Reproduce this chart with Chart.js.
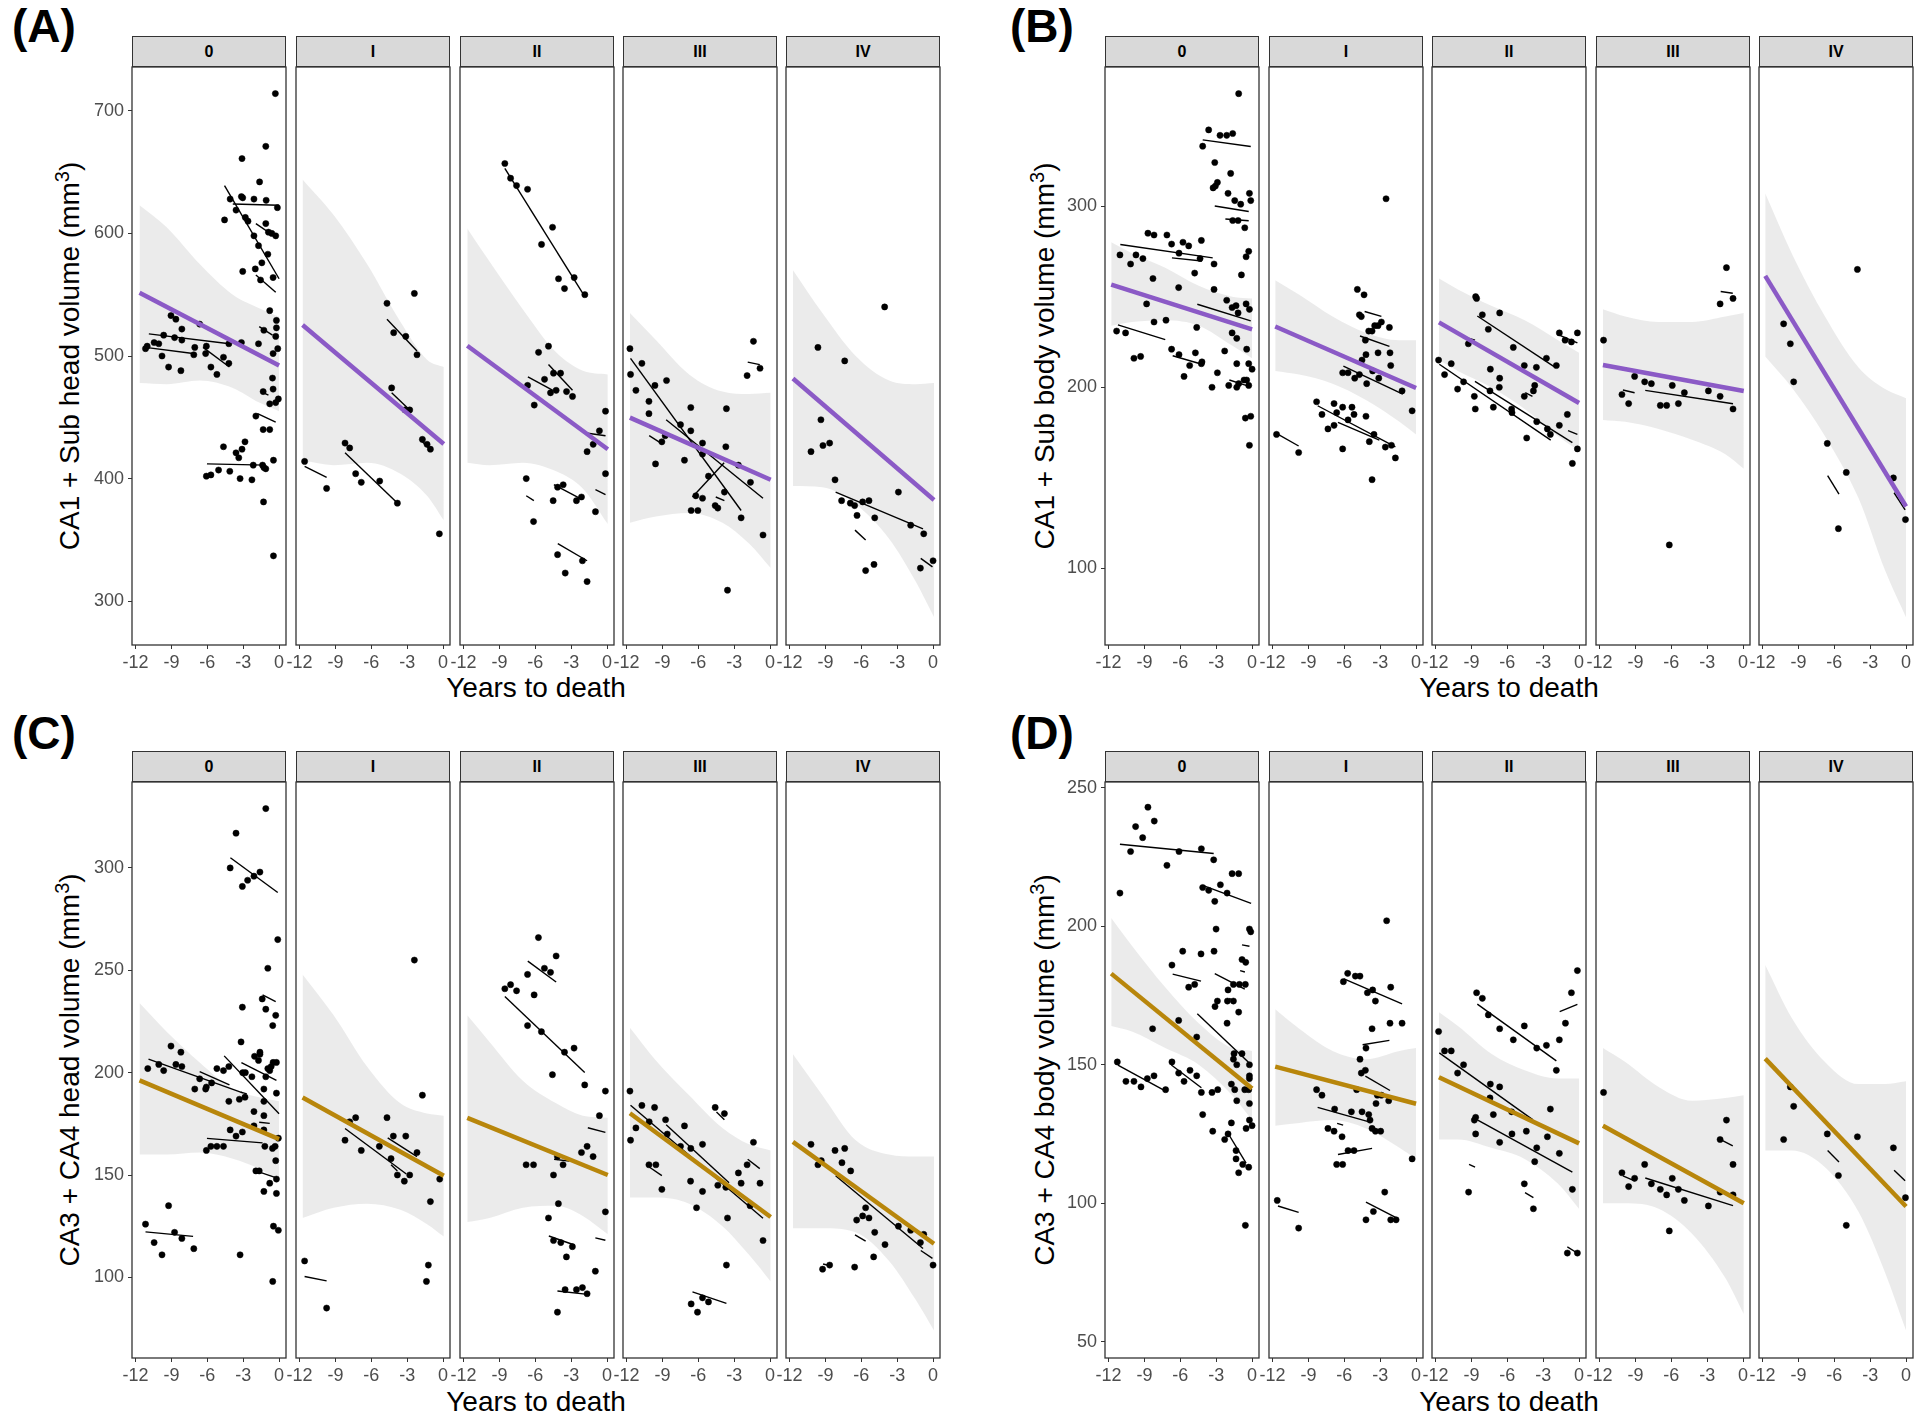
<!DOCTYPE html>
<html>
<head>
<meta charset="utf-8">
<script src="https://cdn.jsdelivr.net/npm/chart.js@4.4.1/dist/chart.umd.min.js"></script>
<style>
  body { margin: 0; background: #fff; width: 1920px; height: 1420px; position: relative; overflow: hidden;
         font-family: "Liberation Sans", Arial, sans-serif; color: #000; }
  canvas { position: absolute; }
  .strip { position: absolute; background: #d9d9d9; border: 1.3px solid #333; box-sizing: border-box;
           text-align: center; font-weight: bold; font-size: 16px; line-height: 30px; }
  .tag { position: absolute; font-weight: bold; font-size: 46px; line-height: 46px; }
  .xt { position: absolute; font-size: 28px; line-height: 28px; transform: translateX(-50%); white-space: nowrap; }
  .yt { position: absolute; font-size: 28px; line-height: 30px; white-space: nowrap;
        transform: translate(-50%, -50%) rotate(-90deg); }
  .yt sup { font-size: 20px; }
</style>
</head>
<body>
<script>
const stages = ['0', 'I', 'II', 'III', 'IV'];
const xTicks = [-12, -9, -6, -3, 0];
const yTicksA = [300, 400, 500, 600, 700];
const yTicksB = [100, 200, 300];
const yTicksC = [100, 150, 200, 250, 300];
const yTicksD = [50, 100, 150, 200, 250];

// observations per stage: [years to death, volume]
const pointsA = [
  [[-11.17,506],[-11.03,508],[-10.45,511],[-10.06,510],[-9.79,500],[-9.65,517],[-9.24,491],[-9.04,533],[-8.74,515],[-8.63,530],[-8.21,488],[-8.13,522],[-8.13,513],[-7.13,501],[-7.05,507],[-6.64,526],[-6.14,502],[-6.08,508],[-5.7,491],[-5.2,485],[-4.65,499],[-4.2,494],[-4.2,510],[-3.15,511],[-1.72,510],
   [-6.08,402],[-5.7,403],[-5.06,407],[-4.65,426],[-4.12,406],[-3.6,421],[-3.37,417],[-3.26,400],[-3.1,424],[-2.85,430],[-2.27,399],[-2.16,411],[-1.38,411],[-1.27,409],[-1.11,408],[-1.3,381],[-0.47,415],[-0.47,337],
   [-0.31,714],[-1.11,671],[-3.1,661],[-1.63,642],[-4.56,611],[-4.09,628],[-3.6,619],[-3.15,630],[-3.04,629],[-2.82,613],[-2.6,610],[-2.1,628],[-2.1,598],[-1.72,590],[-1.44,576],[-1.11,608],[-1.08,627],[-0.94,583],[-0.89,601],[-0.61,600],[-0.28,598],[-0.14,621],[-3.04,569],[-1.99,571],[-1.55,562],[-0.5,564],
   [-0.78,537],[-0.22,529],[-0.22,523],[-0.28,516],[-1.27,521],[-0.11,506],[-0.5,502],[-0.55,482],[-1.33,471],[-0.5,473],[-0.06,465],[-0.28,462],[-0.78,461],[-1.94,451],[-1.33,440],[-0.78,440]],
  [[-11.58,414],[-9.74,392],[-8.2,429],[-7.81,425],[-7.31,404],[-6.84,397],[-5.3,398],[-3.82,380],[-4.69,543],[-4.13,519],[-2.4,551],[-3.12,516],[-2.18,501],[-4.3,474],[-3.18,456],[-2.79,456],[-1.73,432],[-1.34,428],[-1.06,424],[-0.31,355]],
  [[-8.55,657],[-8.07,645],[-7.57,639],[-6.65,636],[-4.56,605],[-5.48,591],[-4.06,563],[-3.56,555],[-2.75,564],[-1.86,550],[-4.9,508],[-5.73,503],[-5.23,481],[-4.48,486],[-3.89,486],[-6.65,476],[-4.73,470],[-4.26,472],[-3.39,471],[-2.89,467],[-6.09,460],[-0.13,455],[-0.64,439],[-1.16,428],[-1.67,422],[-0.13,404],[-6.76,400],[-3.67,395],[-4.14,393],[-4.51,382],[-2.56,382],[-2.14,385],[-0.97,373],[-6.15,365],[-4.14,338],[-3.5,323],[-2.06,333],[-1.67,316]],
  [[-11.72,506],[-11.67,485],[-11.22,472],[-10.72,494],[-10.13,463],[-10.13,453],[-9.63,476],[-8.66,480],[-9.58,412],[-9.05,430],[-8.77,435],[-7.49,444],[-7.16,415],[-6.63,458],[-6.63,439],[-5.65,429],[-5.65,420],[-5.15,402],[-6.21,386],[-5.65,384],[-6.6,374],[-6.04,374],[-4.59,378],[-4.37,376],[-3.82,389],[-3.65,457],[-3.7,426],[-3.56,309],[-2.65,411],[-2.42,368],[-1.64,397],[-1.92,484],[-1.39,512],[-0.84,490],[-0.59,354]],
  [[-9.63,507],[-7.39,496],[-4.05,540],[-9.38,448],[-10.21,422],[-9.21,427],[-8.65,429],[-8.2,399],[-7.65,382],[-6.92,380],[-6.56,378],[-5.89,381],[-5.36,382],[-6.36,370],[-4.88,368],[-2.9,389],[-1.87,362],[-0.78,355],[-5.64,325],[-4.94,330],[-1.06,327],[0,333]]
];
const pointsB = [
  [[-1.12,362],[-3.63,342],[-4.13,333],[-2.68,339],[-2.12,339],[-1.62,340],[-3.12,324],[-1.79,318],[-3.26,310],[-3.07,311],[-2.9,313],[-2.01,307],[-1.45,303],[-0.22,307],[-0.11,303],[-1.62,292],[-1.17,292],[-0.95,301],[-0.61,288],[-8.71,285],[-8.2,284],[-7.12,284],[-6.73,279],[-5.78,280],[-5.3,278],[-4.24,281],[-11.05,273],[-9.71,273],[-10.16,268],[-9.13,271],[-6.11,274],[-4.35,271],[-3.18,268],[-0.5,272],[-0.28,275],[-4.8,263],[-0.89,262],[-8.29,260],[-6.14,255],[-3.18,254],[-8.82,246],[-8.2,236],[-7.2,237],[-4.63,233],[-2.12,248],[-1.67,244],[-1.34,245],[-0.5,246],[-0.22,243],[-1.17,241],[-1.67,230],[-1.28,227],[-11.33,231],[-10.58,230],[-9.88,216],[-9.32,217],[-6.73,221],[-6.11,218],[-4.74,219],[-5.22,212],[-4.19,214],[-4.24,213],[-5.69,206],[-2.9,208],[-3.35,200],[-2.29,220],[-1.28,213],[-0.45,221],[-0.28,213],[0,210],[-1.95,201],[-1.28,200],[-0.67,204],[-0.45,204],[-0.28,201],[-0.56,183],[-0.11,184],[-0.22,168],[-1.12,202]],
  [[-2.51,304],[-4.91,254],[-4.35,251],[-4.74,240],[-4.58,239],[-3.96,231],[-3.68,231],[-3.46,234],[-3.18,234],[-2.9,236],[-2.23,233],[-4.24,226],[-4.19,218],[-4.52,215],[-3.18,219],[-2.18,219],[-3.63,209],[-2.12,212],[-6.14,208],[-5.69,208],[-5.13,205],[-4.74,207],[-4.13,202],[-3.12,205],[-1.17,198],[-0.33,187],[-8.32,192],[-7.87,185],[-7.37,177],[-6.86,179],[-6.86,191],[-6.14,189],[-6.14,166],[-6.64,186],[-5.69,182],[-5.36,189],[-5.19,185],[-4.19,184],[-3.91,170],[-3.52,174],[-2.57,167],[-2.06,168],[-1.73,161],[-3.68,149],[-11.67,174],[-9.82,164]],
  [[-8.65,250],[-8.57,249],[-8.09,240],[-6.64,241],[-7.59,232],[-9.26,224],[-5.5,222],[-2.73,216],[-1.9,212],[-1.65,230],[-1.17,226],[-0.64,225],[-0.14,230],[-11.75,215],[-11.25,207],[-10.69,213],[-10.16,199],[-9.66,203],[-8.76,195],[-8.68,188],[-7.42,210],[-6.64,205],[-6.67,200],[-7.45,198],[-7.17,189],[-5.64,188],[-5.61,186],[-4.58,212],[-3.57,211],[-3.71,201],[-3.82,198],[-4.58,195],[-3.54,181],[-4.38,172],[-2.65,177],[-2.4,174],[-1.65,179],[-0.98,185],[-0.14,166],[-0.56,158]],
  [[-11.67,226],[-10.13,196],[-9.57,191],[-9.07,206],[-8.23,203],[-7.67,202],[-6.92,190],[-6.39,190],[-5.92,201],[-5.41,191],[-4.91,197],[-6.17,113],[-2.9,198],[-1.92,195],[-0.84,188],[-1.92,246],[-1.39,266],[-0.84,249]],
  [[-10.24,235],[-9.68,224],[-9.4,203],[-4.07,265],[-6.59,169],[-5.0,153],[-5.66,122],[-1.06,150],[-0.05,127]]
];
const pointsC = [
  [[-1.11,329],[-3.6,317],[-4.09,300],[-3.07,291],[-2.63,294],[-2.1,296],[-1.6,298],[-0.11,265],[-0.94,251],[-1.41,236],[-1.11,231],[-3.07,232],[-0.28,228],[-0.53,223],[-3.18,215],[-9.04,213],[-10.98,202],[-10.06,204],[-9.65,201],[-8.63,204],[-8.21,210],[-8.13,203],[-7.05,192],[-6.64,197],[-6.08,193],[-6.14,192],[-5.64,195],[-5.2,202],[-4.65,201],[-4.2,203],[-4.2,186],[-3.32,187],[-2.85,188],[-3.04,200],[-2.82,200],[-2.27,198],[-2.05,208],[-1.6,210],[-1.72,206],[-1.6,209],[-1.11,198],[-0.94,202],[-0.78,201],[-0.66,203],[-0.5,205],[-0.22,205],[-1.27,192],[-0.22,190],[-2.1,181],[-1.27,186],[-1.27,179],[-4.09,172],[-3.6,169],[-3.07,171],[-2.1,174],[-1.27,172],[-6.08,162],[-5.7,164],[-5.2,164],[-4.65,164],[-1.19,164],[-0.55,163],[-0.33,164],[-0.06,168],[-0.28,157],[-1.94,152],[-1.66,152],[-0.78,146],[-0.22,148],[-1.27,142],[-0.22,141],[-11.17,126],[-9.24,135],[-10.45,117],[-9.79,111],[-8.74,122],[-8.13,119],[-7.13,114],[-3.26,111],[-0.53,98],[-0.47,125],[-0.06,123]],
  [[-2.4,255],[-1.73,189],[-7.81,176],[-7.31,178],[-8.2,167],[-6.84,162],[-5.33,164],[-4.69,178],[-4.16,169],[-3.12,169],[-4.35,158],[-2.18,161],[-3.82,150],[-3.24,147],[-2.79,150],[-0.28,148],[-1.06,137],[-1.23,106],[-1.39,98],[-11.58,108],[-9.74,85]],
  [[-5.74,266],[-4.26,257],[-5.24,251],[-4.73,249],[-6.65,248],[-8.55,241],[-8.07,243],[-7.57,240],[-6.1,238],[-6.65,223],[-5.49,220],[-3.56,210],[-2.76,212],[-4.57,199],[-1.87,194],[-0.14,191],[-0.64,179],[-1.67,164],[-2.14,161],[-1.17,159],[-4.15,159],[-6.77,155],[-6.15,155],[-3.68,155],[-4.48,150],[-4.07,136],[-0.14,132],[-4.9,129],[-4.48,118],[-3.87,117],[-2.9,115],[-3.4,110],[-0.98,103],[-3.51,94],[-2.56,94],[-2.06,95],[-1.67,92],[-4.15,83]],
  [[-11.72,191],[-11.67,167],[-11.22,173],[-10.72,184],[-10.11,176],[-9.66,183],[-10.13,155],[-9.55,155],[-9.05,143],[-8.74,177],[-8.6,170],[-7.16,174],[-7.49,164],[-6.63,163],[-5.65,165],[-6.65,147],[-5.65,142],[-6.15,134],[-4.59,183],[-3.82,180],[-4.37,145],[-3.7,144],[-3.56,129],[-3.65,106],[-2.65,151],[-2.42,146],[-1.92,155],[-1.39,166],[-1.67,135],[-0.84,146],[-0.59,118],[-6.6,87],[-5.65,90],[-5.15,88],[-6.07,83]],
  [[-10.21,165],[-9.63,155],[-9.35,157],[-8.2,162],[-7.39,163],[-7.62,156],[-6.89,152],[-5.64,134],[-6.39,128],[-5.89,130],[-5.36,129],[-4.88,122],[-4.02,116],[-4.97,110],[-2.9,125],[-1.87,123],[-1.06,117],[-0.78,121],[0,106],[-9.24,104],[-8.65,106],[-6.56,105]]
];
const pointsD = [
  [[-8.71,243],[-9.74,236],[-8.18,238],[-9.15,232],[-10.16,227],[-6.11,227],[-4.24,228],[-7.12,222],[-3.21,224],[-1.67,219],[-1.12,219],[-11.05,212],[-4.13,214],[-3.63,213],[-2.65,215],[-2.09,212],[-3.12,209],[-3.01,199],[-0.22,199],[-0.11,198],[-5.8,191],[-4.27,190],[-3.18,191],[-6.7,186],[-0.84,188],[-0.53,187],[-5.3,178],[-4.8,179],[-2.01,177],[-1.56,179],[-1.06,179],[-0.56,179],[-2.06,173],[-1.56,173],[-2.9,173],[-3.1,171],[-1.12,169],[-6.14,166],[-2.09,165],[-4.63,160],[-8.32,163],[-1.51,154],[-0.84,154],[-1.56,152],[-1.28,150],[-0.22,150],[-6.7,151],[-6.14,147],[-5.69,144],[-5.19,148],[-4.63,146],[-11.27,151],[-10.55,144],[-9.88,144],[-9.29,142],[-8.76,145],[-8.2,146],[-7.23,141],[-4.24,140],[-3.35,140],[-2.87,141],[-1.73,143],[-1.45,141],[-1.28,137],[-0.61,141],[-0.28,141],[-0.22,146],[-0.22,145],[-0.22,136],[-0.22,130],[0,128],[-0.5,127],[-4.13,132],[-3.29,126],[-1.73,129],[-2.01,125],[-2.29,123],[-1.34,119],[-1.34,116],[-1.12,111],[-0.78,114],[-0.28,113],[-0.56,92]],
  [[-2.46,202],[-6.08,180],[-5.72,183],[-5.08,182],[-4.69,182],[-4.07,176],[-3.63,177],[-2.12,178],[-3.4,173],[-3.68,163],[-2.18,165],[-1.17,165],[-4.19,156],[-4.69,152],[-4.58,147],[-4.24,148],[-4.97,141],[-3.24,139],[-2.9,139],[-2.29,137],[-3.35,136],[-8.32,141],[-7.87,139],[-6.81,134],[-7.37,127],[-6.86,126],[-6.19,124],[-5.41,133],[-4.52,133],[-3.96,132],[-3.85,130],[-3.68,127],[-3.4,126],[-2.96,126],[-6.64,114],[-6.14,114],[-5.69,119],[-5.19,119],[-0.33,116],[-2.62,104],[-4.19,94],[-3.57,97],[-2.12,94],[-1.67,94],[-11.61,101],[-9.82,91]],
  [[-11.75,162],[-11.25,155],[-10.69,155],[-9.66,150],[-10.16,147],[-8.57,176],[-8.09,174],[-7.59,168],[-6.64,163],[-5.5,159],[-4.58,164],[-3.54,156],[-2.73,157],[-1.9,148],[-1.65,159],[-1.14,165],[-0.64,176],[-0.14,184],[-7.42,143],[-6.64,142],[-7.45,138],[-5.64,133],[-8.76,130],[-8.65,131],[-7.17,132],[-8.65,125],[-6.64,122],[-5.61,125],[-4.41,126],[-2.4,134],[-2.65,124],[-3.54,120],[-3.71,115],[-1.65,118],[-4.58,107],[-9.24,104],[-3.82,98],[-0.56,105],[-0.98,82],[-0.14,82]],
  [[-11.67,140],[-10.13,111],[-9.57,106],[-9.07,109],[-8.23,114],[-7.67,107],[-6.92,105],[-6.39,103],[-5.92,109],[-5.41,105],[-4.91,101],[-6.17,90],[-2.9,99],[-1.92,104],[-0.84,103],[-1.92,123],[-1.39,130],[-0.84,114]],
  [[-9.68,142],[-9.4,135],[-10.24,123],[-6.59,125],[-4.07,124],[-5.66,110],[-5.0,92],[-1.06,120],[-0.05,102]]
];

// per-subject fitted segments: [x1, y1, x2, y2]
const subjectsA = [
  [[-10.89,518,-4.15,510],[-11.17,507,-7.19,502],[-6.36,507,-4.15,491],[-6.03,412,-1.11,411],[-4.56,639,0,563],[-3.87,624,0,623],[-1.94,608,-0.14,596],[-1.94,566,-0.28,552],[-1.66,524,-0.55,517],[-1.8,453,-0.28,446],[-1.52,471,-0.89,468]],
  [[-11.58,410,-9.74,401],[-8.2,421,-3.91,381],[-4.69,530,-2.18,504],[-4.3,470,-2.79,456],[-1.73,430,-1.0,423]],
  [[-8.55,653,-2.03,551],[-6.62,483,-4.53,472],[-4.9,493,-2.89,472],[-1.61,437,-0.13,435],[-4.45,395,-2.31,384],[-6.76,386,-6.12,382],[-0.97,391,-0.13,387],[-4.12,347,-1.67,333]],
  [[-11.67,498,-2.42,374],[-8.69,448,-0.59,384],[-6.49,385,-3.84,413],[-10.11,435,-9.13,429],[-4.54,385,-3.82,382],[-1.87,495,-0.86,493]],
  [[-8.15,389,-0.84,359],[-6.53,358,-5.64,350],[-1.03,335,-0.05,328]]
];
const subjectsB = [
  [[-4.13,336.5,-0.11,332.8],[-11.02,278.8,-3.29,271.4],[-6.7,271.4,-4.19,269.7],[-3.12,300,-0.28,297],[-2.23,292.8,-0.28,291.9],[-11.22,234.4,-7.26,226.3],[-6.64,217.4,-4.19,212.7],[-4.58,245.8,-0.11,236.6],[-1.9,204,-0.5,201]],
  [[-11.61,174.3,-9.82,167.6],[-8.23,189.8,-1.73,167.1],[-6.53,180.6,-3.07,170.8],[-6.08,211.6,-1.11,196.2],[-4.69,228.3,-2.23,222.6],[-4.3,241.8,-2.9,239.1]],
  [[-8.51,239.3,-2.09,211.4],[-11.69,212.7,-2.37,170.8],[-8.71,203.3,-0.56,169.5],[-9.2,227,-8.7,226],[-4.5,197,-3.9,195],[-1.65,228.8,-0.14,224.5],[-0.92,176.1,-0.14,174]],
  [[-10.05,198.5,-9.07,197],[-8.18,198.3,-0.84,190.9],[-1.87,252.8,-0.86,251.9]],
  [[-6.56,151.2,-5.61,141.1],[-1.0,141.8,-0.08,132.4]]
];
const subjectsC = [
  [[-10.92,206.6,-3.04,190.1],[-6.64,200.5,-4.15,194],[-4.59,208.2,0,179.9],[-4.07,305,-0.11,288],[-3.15,204.9,-0.22,196.2],[-6.03,167.9,-1.38,165.7],[-11.17,122.2,-7.19,120],[-1.38,238,-0.28,234.7],[-1.94,152,-0.28,148.7],[-1.66,175.8,-0.78,175.2],[-3.2,190.5,-2.7,189.6]],
  [[-11.58,100.4,-9.74,98.3],[-8.2,172.7,-3.07,150.5],[-4.63,168.1,-2.18,159],[-4.35,155,-3.82,152]],
  [[-8.55,237.2,-1.87,200.1],[-6.63,254.5,-4.26,244.3],[-1.61,173.1,-0.14,170.8],[-4.43,157.7,-3.15,156.8],[-4.87,120.2,-2.73,115.8],[-0.98,119.3,-0.14,118.1],[-4.15,93.3,-1.81,91.8]],
  [[-11.67,184.1,-0.59,128.9],[-8.69,174.5,-3.43,146.2],[-10.11,153.9,-9.05,149.7],[-4.48,180.8,-3.82,177],[-1.87,157.7,-0.86,153.1],[-6.49,92.9,-3.65,87.3]],
  [[-8.15,149.6,-0.84,114.1],[-6.53,120.8,-5.64,117.7],[-1.03,113.1,-0.05,109.3],[-9.2,106.5,-8.7,105.8]]
];
const subjectsD = [
  [[-11.05,229.6,-3.21,226.3],[-4.13,214.8,-0.08,208.3],[-6.64,182.7,-4.27,180.2],[-3.12,182.9,-0.61,177.3],[-4.58,168.4,-0.08,150],[-11.22,149.9,-7.42,140.9],[-6.75,149.9,-4.24,141.7],[-2.09,125.8,-0.5,114.5],[-0.84,193.3,-0.22,192.8],[-1.0,184,-0.6,183.5],[-1.9,174,-1.4,172.6]],
  [[-11.55,99,-9.82,96.7],[-6.03,181,-1.17,172],[-4.47,157.2,-2.23,158.8],[-4.24,145.9,-2.18,140.7],[-8.23,134.6,-3.85,129.3],[-6.53,117.6,-3.68,119.8],[-4.19,100.4,-1.51,94.4],[-6.6,128.8,-6.1,128.2]],
  [[-8.51,171.9,-1.9,151.4],[-11.69,154.3,-3.85,130.1],[-8.51,130.1,-0.56,111.2],[-1.62,169.2,-0.14,171.8],[-9.2,114,-8.7,113],[-4.52,103.8,-3.82,102],[-0.98,84.2,-0.19,82.1]],
  [[-10.05,109.9,-9.07,108.1],[-8.18,109.1,-0.84,99.1],[-1.87,123,-0.86,120.7]],
  [[-6.56,119,-5.61,114.9],[-1.0,111.9,-0.08,108.1]]
];

// group fit per stage: [x1, y1, x2, y2]
const fitA = [[-11.67,551.6,0,492.2],[-11.75,525.3,0.06,428.3],[-11.69,508.4,0.06,423.9],[-11.72,449.7,0.05,399.1],[-11.72,481.6,0.08,382.6]];
const fitB = [[-11.78,256.6,0,231.9],[-11.78,233.5,0,199.6],[-11.72,235.8,0,191.3],[-11.72,212.3,0.06,197.9],[-11.78,261.5,0,134.2]];
const fitC = [[-11.67,196.2,0,167.5],[-11.75,187.9,0.06,149.6],[-11.69,177.9,0.06,150],[-11.72,180.2,0.05,129.5],[-11.72,166.2,0.08,116.4]];
const fitD = [[-11.78,182.9,0,141.4],[-11.78,149.3,0,135.9],[-11.72,145.5,0,121.6],[-11.72,128,0.06,100],[-11.78,152.2,0,98.8]];

// confidence band per stage: [x, lower, upper]
const bandA = [
  [[-11.67,478,623],[-9.4,477,605],[-6.64,480,575],[-3.87,474,550],[-1.66,462,539],[0,455,532]],
  [[-11.75,415,644],[-9.15,411,615],[-6.36,413,575],[-3.57,404,528],[-1.34,386,497],[0.06,366,491]],
  [[-11.69,413,604],[-9.83,411,577],[-7.04,413,538],[-4.26,406,503],[-2.03,392,488],[0.06,363,485]],
  [[-11.72,364,535],[-9.55,369,513],[-6.77,372,485],[-3.98,364,471],[-1.76,347,469],[0.05,327,470]],
  [[-11.72,394,570],[-9.26,393,535],[-6.47,379,500],[-3.68,351,480],[-1.45,316,477],[0.08,287,478]]
];
const bandB = [
  [[-11.78,234,280],[-10.05,236,274],[-7.26,237,266],[-4.46,234,256],[-1.67,223,250],[0,216,249]],
  [[-11.78,209,259],[-9.77,207,251],[-6.98,202,239],[-4.19,193,230],[-1.39,181,226],[0,174,226]],
  [[-11.72,215,260],[-10.13,209,254],[-7.34,200,245],[-4.55,188,237],[-1.76,173,226],[0,165,219]],
  [[-11.72,182,243],[-9.85,181,239],[-7.06,177,236],[-4.27,171,236],[-1.48,163,239],[0.06,155,241]],
  [[-11.78,217,307],[-9.57,200,274],[-6.78,173,239],[-3.99,139,211],[-1.76,99,199],[0,73,194]]
];
const bandC = [
  [[-11.67,160,234],[-9.4,160,220],[-6.64,161,205],[-3.87,158,192],[-1.66,153,188],[0,147,186]],
  [[-11.75,129,248],[-9.15,134,228],[-6.36,136,203],[-3.57,133,185],[-1.34,126,180],[0.06,120,179]],
  [[-11.69,127,228],[-9.83,129,215],[-7.04,134,196],[-4.26,135,185],[-2.03,130,179],[0.06,121,178]],
  [[-11.72,139,222],[-9.55,139,206],[-6.77,136,189],[-3.98,125,173],[-1.76,111,165],[0.05,98,162]],
  [[-11.72,124,209],[-9.26,124,189],[-6.47,122,167],[-3.68,108,160],[-1.45,89,159],[0.08,74,159]]
];
const bandD = [
  [[-11.78,164,203],[-10.05,162,193],[-7.26,156,178],[-4.46,150,165],[-1.67,139,156],[0,130,155]],
  [[-11.78,128,170],[-9.77,129,163],[-6.98,130,155],[-4.19,127,152],[-1.39,120,155],[0,116,156]],
  [[-11.72,123,169],[-10.13,123,164],[-7.34,120,154],[-4.55,116,148],[-1.76,107,145],[0,98,145]],
  [[-11.72,100,156],[-9.85,100,151],[-7.06,98,142],[-4.27,89,137],[-1.48,73,138],[0.06,60,139]],
  [[-11.78,119,186],[-9.57,119,167],[-6.78,113,151],[-3.99,97,143],[-1.76,75,143],[0,54,144]]
];

const purple = '#8b5ac6';
const gold = '#b8860b';
const FACET_W = 154;

Chart.defaults.font.family = '"Liberation Sans", Arial, sans-serif';

// panel border like ggplot's panel.border
const frame = {
  id: 'frame',
  afterDraw(chart) {
    const a = chart.chartArea, ctx = chart.ctx;
    ctx.save();
    ctx.strokeStyle = '#333';
    ctx.lineWidth = 1.3;
    ctx.strokeRect(a.left, a.top, a.right - a.left, a.bottom - a.top);
    ctx.restore();
  }
};

const panels = [
  { tag: '(A)', tagX: 12, tagY: 3, top: 67, h: 578, lefts: [132, 296, 460, 623, 786], ymin: 264.3, ymax: 735.7,
    yTicks: yTicksA, ytitle: 'CA1 + Sub head volume', ytX: 66, xtY: 674,
    pts: pointsA, segs: subjectsA, fit: fitA, band: bandA, col: purple },
  { tag: '(B)', tagX: 1010, tagY: 3, top: 67, h: 578, lefts: [1105, 1269, 1432, 1596, 1759], ymin: 57.8, ymax: 376.7,
    yTicks: yTicksB, ytitle: 'CA1 + Sub body volume', ytX: 1041, xtY: 674,
    pts: pointsB, segs: subjectsB, fit: fitB, band: bandB, col: purple },
  { tag: '(C)', tagX: 12, tagY: 710, top: 782, h: 576, lefts: [132, 296, 460, 623, 786], ymin: 60.6, ymax: 342,
    yTicks: yTicksC, ytitle: 'CA3 + CA4 head volume', ytX: 66, xtY: 1388,
    pts: pointsC, segs: subjectsC, fit: fitC, band: bandC, col: gold },
  { tag: '(D)', tagX: 1010, tagY: 710, top: 782, h: 576, lefts: [1105, 1269, 1432, 1596, 1759], ymin: 44.1, ymax: 252.1,
    yTicks: yTicksD, ytitle: 'CA3 + CA4 body volume', ytX: 1041, xtY: 1388,
    pts: pointsD, segs: subjectsD, fit: fitD, band: bandD, col: gold }
];

function addDiv(cls, html, left, top, extra) {
  const d = document.createElement('div');
  d.className = cls;
  d.innerHTML = html;
  d.style.left = left + 'px';
  d.style.top = top + 'px';
  if (extra) Object.assign(d.style, extra);
  document.body.appendChild(d);
  return d;
}

function makeFacet(p, i) {
  const first = i === 0;
  const padL = 20, padR = 20, padT = 20, axH = 34, yW = first ? 60 : 0;
  const cv = document.createElement('canvas');
  cv.width = FACET_W + padL + padR + yW;
  cv.height = padT + p.h + axH;
  cv.style.left = (p.lefts[i] - padL - yW) + 'px';
  cv.style.top = (p.top - padT) + 'px';
  document.body.appendChild(cv);

  const tickFont = { size: 18 };
  const datasets = [];
  const f = p.fit[i];
  datasets.push({ data: [{ x: f[0], y: f[1] }, { x: f[2], y: f[3] }], borderColor: p.col, borderWidth: 4.5,
                  pointRadius: 0, order: 0 });
  datasets.push({ data: p.pts[i].map(([x, y]) => ({ x, y })), showLine: false, pointRadius: 3.1,
                  pointBackgroundColor: '#000', pointBorderColor: '#000', pointBorderWidth: 0.5, order: 1 });
  p.segs[i].forEach(s => {
    datasets.push({ data: [{ x: s[0], y: s[1] }, { x: s[2], y: s[3] }], borderColor: '#000', borderWidth: 1.4,
                    pointRadius: 0, order: 2 });
  });
  const b = p.band[i];
  datasets.push({ data: b.map(r => ({ x: r[0], y: r[1] })), borderColor: 'rgba(0,0,0,0)', borderWidth: 0,
                  pointRadius: 0, fill: false, cubicInterpolationMode: 'monotone', order: 3 });
  datasets.push({ data: b.map(r => ({ x: r[0], y: r[2] })), borderColor: 'rgba(0,0,0,0)', borderWidth: 0,
                  pointRadius: 0, fill: '-1', backgroundColor: 'rgba(153,153,153,0.2)',
                  cubicInterpolationMode: 'monotone', order: 3 });

  new Chart(cv, {
    type: 'line',
    data: { datasets },
    plugins: [frame],
    options: {
      responsive: false,
      animation: false,
      events: [],
      layout: { padding: { left: padL, right: padR, top: padT, bottom: 0 } },
      plugins: { legend: { display: false }, tooltip: { enabled: false } },
      scales: {
        x: {
          type: 'linear', min: -12.3, max: 0.58,
          afterBuildTicks: s => { s.ticks = xTicks.map(v => ({ value: v })); },
          afterFit: s => { s.height = axH; },
          ticks: { font: tickFont, color: '#4d4d4d', padding: 3, maxRotation: 0, autoSkip: false },
          grid: { drawOnChartArea: false, drawTicks: true, tickLength: 4, color: '#333' },
          border: { display: false }
        },
        y: {
          type: 'linear', min: p.ymin, max: p.ymax, display: first,
          afterBuildTicks: s => { s.ticks = p.yTicks.map(v => ({ value: v })); },
          afterFit: s => { s.width = yW; },
          ticks: { font: tickFont, color: '#4d4d4d', padding: 4 },
          grid: { drawOnChartArea: false, drawTicks: true, tickLength: 4, color: '#333' },
          border: { display: false }
        }
      }
    }
  });
}

panels.forEach(p => {
  addDiv('tag', p.tag, p.tagX, p.tagY);
  addDiv('yt', p.ytitle + ' (mm<sup>3</sup>)', p.ytX, p.top + p.h / 2);
  const midX = (p.lefts[0] + p.lefts[4] + FACET_W) / 2;
  addDiv('xt', 'Years to death', midX, p.xtY);
  stages.forEach((s, i) => {
    addDiv('strip', s, p.lefts[i], p.top - 31, { width: FACET_W + 'px', height: '31px' });
    makeFacet(p, i);
  });
});
</script>
</body>
</html>
